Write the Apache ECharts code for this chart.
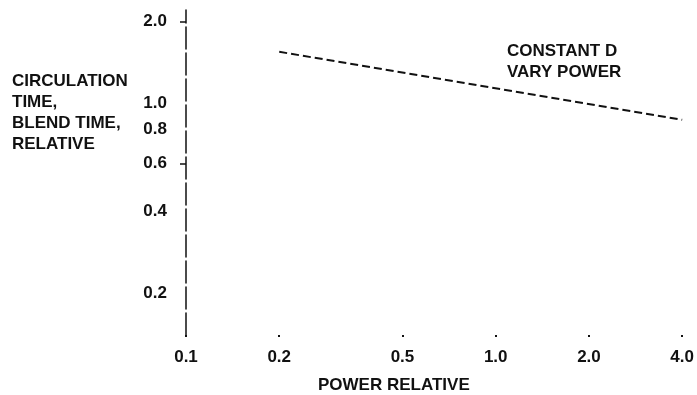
<!DOCTYPE html>
<html><head><meta charset="utf-8">
<script src="https://cdn.jsdelivr.net/npm/echarts@6/dist/echarts.min.js"></script>
<style>html,body{margin:0;padding:0;background:#fff}#c{width:697px;height:395px}</style>
</head><body><div id="c"></div>
<script>
// Data (log-log chart)
const powerRelative = [0.2, 4.0];
const timeRelative = [1.55, 0.87];
const xTickValues = [0.1, 0.2, 0.5, 1.0, 2.0, 4.0];
const xTickLabels = ['0.1', '0.2', '0.5', '1.0', '2.0', '4.0'];
const yTickValues = [0.2, 0.4, 0.6, 0.8, 1.0, 2.0];
const yTickLabels = ['0.2', '0.4', '0.6', '0.8', '1.0', '2.0'];
const yTickMarks = [0.6, 2.0];
const yTitle = 'CIRCULATION\nTIME,\nBLEND TIME,\nRELATIVE';
const xTitle = 'POWER RELATIVE';
const note = 'CONSTANT D\nVARY POWER';

function lookup(vals, labels, v) {
  let best = 0, d = Infinity;
  vals.forEach((x, i) => { const dd = Math.abs(Math.log(x) - Math.log(v)); if (dd < d) { d = dd; best = i; } });
  return labels[best];
}
const FONT = "'Liberation Sans', Arial, sans-serif";
const INK = '#111';
const chart = echarts.init(document.getElementById('c'), null, {renderer: 'canvas'});
chart.setOption({
  backgroundColor: '#fff',
  animation: false,
  grid: {left: 186, right: 14, top: 10, bottom: 60},
  title: [
    {text: yTitle, left: 12, top: 71, padding: 0, textStyle: {fontFamily: FONT, fontSize: 17, fontWeight: 'bold', color: INK, lineHeight: 21}},
    {text: note, left: 507, top: 41, padding: 0, textStyle: {fontFamily: FONT, fontSize: 17, fontWeight: 'bold', color: INK, lineHeight: 21}},
    {text: xTitle, left: 318, top: 377, padding: 0, textStyle: {fontFamily: FONT, fontSize: 17, fontWeight: 'bold', color: INK}}
  ],
  xAxis: {
    type: 'log', logBase: 10, min: 0.1, max: 4.0,
    axisLine: {show: false},
    splitLine: {show: false},
    axisTick: {show: true, customValues: xTickValues, length: 2, inside: false, lineStyle: {color: INK, width: 2}},
    axisLabel: {customValues: xTickValues, margin: 14, fontFamily: FONT, fontSize: 17, fontWeight: 'bold', color: INK,
      formatter: v => lookup(xTickValues, xTickLabels, v)}
  },
  yAxis: {
    type: 'log', logBase: 10, min: 0.14, max: 2.21,
    axisLine: {show: true, lineStyle: {color: INK, width: 1.5, type: [22, 4]}},
    splitLine: {show: false},
    axisTick: {show: true, customValues: yTickMarks, length: 6, lineStyle: {color: INK, width: 1.5}},
    axisLabel: {customValues: yTickValues, margin: 19, fontFamily: FONT, fontSize: 17, fontWeight: 'bold', color: INK,
      formatter: v => lookup(yTickValues, yTickLabels, v)}
  },
  series: [{
    type: 'line',
    data: powerRelative.map((p, i) => [p, timeRelative[i]]),
    showSymbol: false,
    lineStyle: {color: INK, width: 2, type: [8, 4]}
  }]
});
</script></body></html>
